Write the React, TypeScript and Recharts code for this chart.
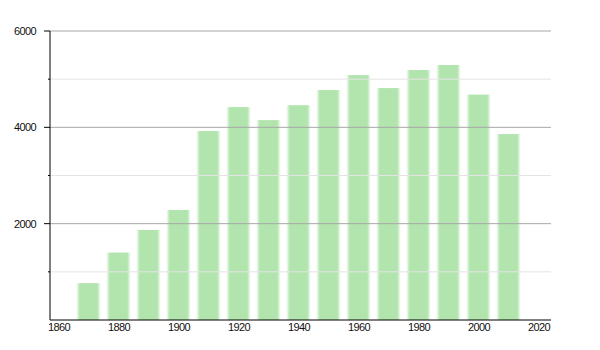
import React from "react";
import { BarChart, Bar, XAxis, YAxis, ReferenceLine } from "recharts";

const years = [1870, 1880, 1890, 1900, 1910, 1920, 1930, 1940, 1950, 1960, 1970, 1980, 1990, 2000, 2010];
const population = [765, 1400, 1870, 2285, 3925, 4420, 4150, 4460, 4775, 5085, 4815, 5190, 5295, 4680, 3860];
const xTicks = [1860, 1880, 1900, 1920, 1940, 1960, 1980, 2000, 2020];
const yTicks = [0, 1000, 2000, 3000, 4000, 5000, 6000];
const majorGrid = [2000, 4000, 6000];
const minorGrid = [1000, 3000, 5000];

const data = years.map((y, i) => ({ year: y, value: population[i] }));

const FONT = "'Liberation Sans', Arial, sans-serif";

const YTick = (props: any) => {
  const { x, y, payload } = props;
  const v = payload.value;
  const major = v % 2000 === 0 && v !== 0;
  if (v === 0) return null;
  return (
    <g>
      <line x1={x - (major ? 6 : 2)} x2={x} y1={y} y2={y} stroke="#000" strokeWidth={1} />
      {major && (
        <text x={x - 14} y={y} dy="0.36em" textAnchor="end" fontSize={11} letterSpacing={-0.6} fontFamily={FONT} fill="#111">
          {v}
        </text>
      )}
    </g>
  );
};

const BarShape = (props: any) => {
  const { x, y, width, height } = props;
  return <rect x={x} y={y} width={width} height={height} fill="#b2e4ae" filter="url(#softblur)" />;
};

export default function App() {
  return (
    <div style={{ position: "absolute", left: 0, top: 0, width: 600, height: 350, background: "#fff" }}>
      <BarChart width={600} height={350} data={data} margin={{ top: 31, right: 49, bottom: 0, left: 0 }}>
        <defs>
          <filter id="softblur" x="-20%" y="-5%" width="140%" height="110%">
            <feGaussianBlur stdDeviation="1.1 0.6" />
          </filter>
        </defs>
        {minorGrid.map((v) => (
          <ReferenceLine key={"mi" + v} y={v} stroke="#e4e4e4" strokeWidth={1} />
        ))}
        {majorGrid.map((v) => (
          <ReferenceLine key={"ma" + v} y={v} stroke="#a8a8a8" strokeWidth={1} />
        ))}
        <XAxis
          dataKey="year"
          type="number"
          domain={[1857, 2024]}
          ticks={xTicks}
          tickLine={false}
          tickSize={0}
          tickMargin={3}
          height={30}
          axisLine={{ stroke: "#000" }}
          tick={{ fontSize: 11, fontFamily: FONT, fill: "#111", letterSpacing: -0.6 }}
          allowDataOverflow
        />
        <YAxis
          type="number"
          domain={[0, 6000]}
          ticks={yTicks}
          width={50}
          tickLine={false}
          tickSize={0}
          tickMargin={0}
          axisLine={{ stroke: "#000" }}
          tick={<YTick />}
          interval={0}
        />
        <Bar dataKey="value" barSize={21} isAnimationActive={false} shape={<BarShape />} />
      </BarChart>
    </div>
  );
}
